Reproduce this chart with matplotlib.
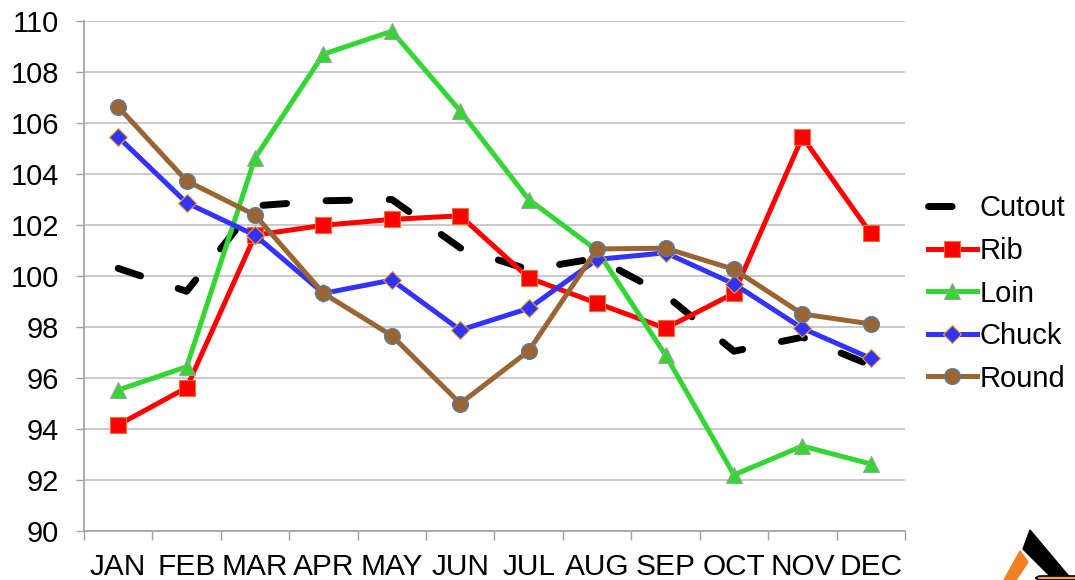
import matplotlib
matplotlib.use("Agg")
import matplotlib.pyplot as plt
from matplotlib.patches import Polygon, FancyBboxPatch
import numpy as np

plt.rcParams['font.family'] = ['Liberation Sans', 'DejaVu Sans']

months = ["JAN", "FEB", "MAR", "APR", "MAY", "JUN", "JUL", "AUG", "SEP", "OCT", "NOV", "DEC"]
cutout = [100.3, 99.4, 102.75, 102.95, 103.0, 101.1, 100.25, 100.7, 99.25, 97.05, 97.6, 96.5]
rib    = [94.16, 95.62, 101.6, 101.99, 102.22, 102.36, 99.93, 98.93, 97.95, 99.32, 105.45, 101.67]
loin   = [95.53, 96.44, 104.63, 108.7, 109.6, 106.47, 103.0, 101.0, 96.9, 92.2, 93.33, 92.63]
chuck  = [105.45, 102.87, 101.6, 99.32, 99.84, 97.88, 98.73, 100.65, 100.91, 99.69, 97.95, 96.77]
round_ = [106.63, 103.73, 102.39, 99.32, 97.66, 95.0, 97.06, 101.06, 101.09, 100.26, 98.51, 98.12]
y_ticks = [90, 92, 94, 96, 98, 100, 102, 104, 106, 108, 110]

W, H = 1075, 580
fig = plt.figure(figsize=(W / 100, H / 100), dpi=100)
ax = fig.add_axes([84 / W, 1 - 531 / H, 821 / W, 510 / H])
x = np.arange(len(months))

ax.plot(x, cutout, color='black', lw=5, ls=(0, (3.4, 5.7)), dash_capstyle='round',
        solid_capstyle='round', label='Cutout', zorder=3)
ax.plot(x, rib, color='#FF0000', lw=3.6, marker='s', ms=11, mfc='#FF0000', mec='#F07030',
        mew=0.8, label='Rib', zorder=4)
ax.plot(x, loin, color='#33D633', lw=3.6, marker='^', ms=11.5, mfc='#33D633', mec='#A0A0A0',
        mew=0.8, label='Loin', zorder=5)
ax.plot(x, chuck, color='#3333FF', lw=3.6, marker='D', ms=9, mfc='#3333FF', mec='#F0A020',
        mew=0.8, label='Chuck', zorder=6)
ax.plot(x, round_, color='#996633', lw=3.6, marker='o', ms=11.5, mfc='#996633', mec='#4F81BD',
        mew=0.8, label='Round', zorder=7)

ax.set_xlim(-0.5, len(months) - 0.5)
ax.set_ylim(90, 110)
ax.set_yticks(y_ticks)
ax.set_yticklabels([str(v) for v in y_ticks], fontsize=21)
ax.set_xticks(x)
ax.set_xticklabels(months, fontsize=21.5)
ax.set_xticks(np.arange(-0.5, len(months), 1.0), minor=True)
ax.tick_params(axis='x', which='major', length=0, pad=16)
ax.tick_params(axis='x', which='minor', length=6.5, color='#A0A0A0', width=1)
ax.tick_params(axis='y', length=6, color='#A0A0A0', width=1, pad=12)
ax.grid(axis='y', color='#C0C0C0', lw=1.2, zorder=0)
ax.set_axisbelow(True)
for s in ['top', 'right']:
    ax.spines[s].set_visible(False)
for s in ['left', 'bottom']:
    ax.spines[s].set_color('#A0A0A0')
    ax.spines[s].set_linewidth(1.2)

leg = fig.legend(loc='center left', bbox_to_anchor=(916 / W, 1 - 293.5 / H), frameon=False,
                 fontsize=21, handlelength=1.68, handletextpad=0.1, labelspacing=0.5,
                 borderaxespad=0.0)


def px(pts):
    return [[p[0] / W, 1 - p[1] / H] for p in pts]


# partial logo in the bottom-right corner
fig.patches.append(Polygon(px([(1030, 530), (1072, 580), (1054, 580), (1023, 549)]),
                           closed=True, transform=fig.transFigure, color='black', zorder=10))
fig.patches.append(Polygon(px([(1020, 551), (1028, 562), (1016, 580), (1004, 580)]),
                           closed=True, transform=fig.transFigure, color='#F08020', zorder=10))
fig.patches.append(FancyBboxPatch((1036 / W, 0.0), 60 / W, 4 / H,
                                  boxstyle='round,pad=0.0,rounding_size=0.005',
                                  transform=fig.transFigure, fc='#F4A060', ec='black', lw=1.2,
                                  zorder=11))

fig.savefig('out.png', dpi=100)
